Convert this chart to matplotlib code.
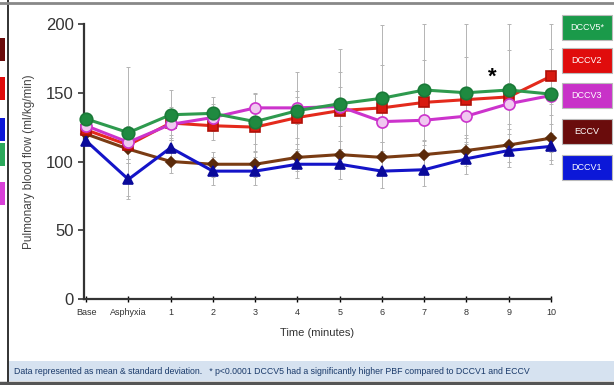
import matplotlib
matplotlib.use('Agg')
import matplotlib.pyplot as plt
from matplotlib.patches import Rectangle
import numpy as np

plt.rcParams['font.family'] = ['Liberation Sans Narrow', 'Liberation Sans', 'DejaVu Sans']

# time points
labels = ['Base', 'Asphyxia', '1', '2', '3', '4', '5', '6', '7', '8', '9', '10']

# mean pulmonary blood flow (ml/kg/min)
dccv5 = [131, 121, 134, 135, 129, 137, 142, 146, 152, 150, 152, 149]
dccv2 = [123, 112, 128, 126, 125, 132, 137, 139, 143, 145, 147, 162]
dccv3 = [126, 114, 127, 132, 139, 139, 140, 129, 130, 133, 142, 148]
eccv = [120, 109, 100, 98, 98, 103, 105, 103, 105, 108, 112, 117]
dccv1 = [115, 87, 110, 93, 93, 98, 98, 93, 94, 102, 108, 111]

# standard deviations
dccv5_sd = [0, 48, 18, 12, 21, 28, 40, 53, 48, 50, 48, 51]
dccv2_sd = [0, 10, 12, 10, 12, 15, 28, 31, 31, 31, 34, 20]
dccv3_sd = [0, 12, 10, 10, 10, 12, 14, 15, 15, 16, 15, 14]
eccv_sd = [0, 10, 8, 9, 9, 10, 10, 11, 11, 11, 12, 10]
dccv1_sd = [0, 12, 9, 10, 10, 10, 11, 12, 12, 11, 12, 10]

x = np.arange(len(labels))

fig = plt.figure(figsize=(6.14, 3.85), dpi=100)
fig.patch.set_facecolor('white')
ax = fig.add_axes([84 / 614, 86 / 385, 467 / 614, 275 / 385])

series = [
    (eccv, eccv_sd, '#7a3c14', 'D', '#5a2a0a', '#5a2a0a', 5),
    (dccv1, dccv1_sd, '#1414c8', '^', '#0a0a9a', '#0a0a9a', 7),
    (dccv2, dccv2_sd, '#e42a1c', 's', '#d81a10', '#b01008', 7),
    (dccv3, dccv3_sd, '#cc33cc', 'o', '#f0c8f0', '#cc33cc', 8),
    (dccv5, dccv5_sd, '#2e9a4e', 'o', '#1f8a40', '#1a7a38', 9),
]

# error bars first so the lines sit on top
for vals, sd, col, mk, fc, ec, ms in series:
    eb = ax.errorbar(x, vals, yerr=sd, fmt='none', ecolor='#b4b4b4', elinewidth=0.7,
                     capsize=1.5, capthick=0.7, zorder=1)
    for art in eb.lines[1] + eb.lines[2]:
        art.set_clip_on(False)

for vals, sd, col, mk, fc, ec, ms in series:
    ax.plot(x, vals, color=col, lw=2.2, marker=mk, markersize=ms,
            markerfacecolor=fc, markeredgecolor=ec, markeredgewidth=1.2,
            zorder=3, clip_on=False)

ax.text(9.6, 161, '*', fontsize=16, fontweight='bold', ha='center', va='center',
        color='black', zorder=4)

ax.set_xlim(-0.05, 11)
ax.set_ylim(0, 200)
ax.set_yticks([0, 50, 100, 150, 200])
ax.set_xticks(x)
ax.set_xticklabels(labels, fontsize=6.5, color='#333333')
ax.tick_params(axis='y', labelsize=12, colors='#333333', length=4, width=1.2)
ax.tick_params(axis='x', direction='inout', length=5, width=1.0, pad=4)
for side in ['top', 'right']:
    ax.spines[side].set_visible(False)
for side in ['left', 'bottom']:
    ax.spines[side].set_linewidth(1.6)
    ax.spines[side].set_color('#333333')

ax.set_ylabel('Pulmonary blood flow (ml/kg/min)', fontsize=8.5, color='#444444', labelpad=8)
ax.set_xlabel('Time (minutes)', fontsize=8, color='#333333', labelpad=8)

# coloured legend boxes on the right
legend = [('DCCV5*', '#1a9a4a', 15), ('DCCV2', '#e00c0c', 48), ('DCCV3', '#c832c8', 83),
          ('ECCV', '#6a0c0c', 119), ('DCCV1', '#0c18d8', 155)]
for name, col, top in legend:
    fig.patches.append(Rectangle((562 / 614, 1 - (top + 25) / 385), 50 / 614, 25 / 385,
                                 transform=fig.transFigure, facecolor=col,
                                 edgecolor='#bbbbbb', lw=0.8))
    fig.text(587 / 614, 1 - (top + 12.5) / 385, name, color='white', fontsize=6.5,
             ha='center', va='center')

# cut-off legend squares at the left edge
for col, top in [('#6a0c0c', 38), ('#e00c0c', 77), ('#0c18d8', 118), ('#2aa85a', 143), ('#d840d8', 182)]:
    fig.patches.append(Rectangle((0, 1 - (top + 23) / 385), 5 / 614, 23 / 385,
                                 transform=fig.transFigure, facecolor=col, edgecolor='none'))

# frame lines of the slide
fig.add_artist(plt.Line2D([8 / 614, 8 / 614], [0, 1], color='#222222', lw=1.3,
                          transform=fig.transFigure))
fig.add_artist(plt.Line2D([0, 1], [1 - 3 / 385, 1 - 3 / 385], color='#888888', lw=2,
                          transform=fig.transFigure))

# footnote band
fig.patches.append(Rectangle((9 / 614, 4 / 385), 605 / 614, 20 / 385,
                             transform=fig.transFigure, facecolor='#d6e2f0', edgecolor='none'))
fig.add_artist(plt.Line2D([0, 1], [2 / 385, 2 / 385], color='#555555', lw=2.5,
                          transform=fig.transFigure))
fig.text(14 / 614, 14 / 385,
         'Data represented as mean & standard deviation.   * p<0.0001 DCCV5 had a significantly '
         'higher PBF compared to DCCV1 and ECCV',
         fontsize=6.3, color='#1a3a6a', ha='left', va='center')

fig.savefig('out.png', dpi=100)
